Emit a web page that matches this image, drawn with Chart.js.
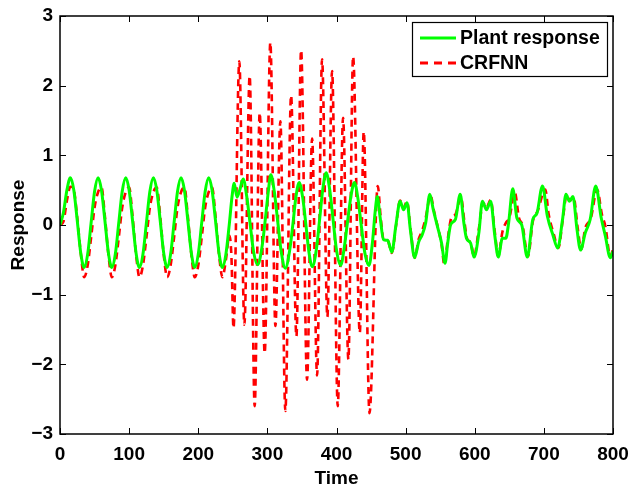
<!DOCTYPE html>
<html>
<head>
<meta charset="utf-8">
<title>Plant response vs CRFNN</title>
<script src="https://cdn.jsdelivr.net/npm/chart.js@4.4.1/dist/chart.umd.min.js"></script>
<style>
  html, body { margin: 0; padding: 0; background: #fff; }
</style>
</head>
<body>
<canvas id="chart" width="630" height="490"></canvas>
<script>
const xTicks = [0, 100, 200, 300, 400, 500, 600, 700, 800];
const yTicks = [-3, -2, -1, 0, 1, 2, 3];
const seriesNames = ["Plant response", "CRFNN"];

// Plant response
const plantTime = [
  0, 5, 10, 15, 20, 25, 30, 35, 40, 45, 50, 55, 60, 65, 70, 75, 80, 85, 90, 95,
  100, 105, 110, 115, 120, 125, 130, 135, 140, 145, 150, 155, 160, 165, 170, 175, 180, 185, 190, 195,
  200, 205, 210, 215, 220, 225, 230, 235, 240, 245,
  249, 252, 256, 260, 265, 270, 275, 280, 286, 292, 297, 301, 305, 310, 315, 320, 326, 332, 337, 341,
  346, 351, 356, 360, 365, 371, 376, 380, 385, 390, 395, 400, 406, 411, 416, 421, 426, 431, 436, 441,
  447, 452, 456, 459, 463, 468, 474, 480, 486, 492, 497, 502, 507, 513, 519, 524, 529, 535, 540, 546,
  552, 557, 561, 565, 572, 579, 584, 588, 594, 599, 606, 611, 617, 623, 629, 634, 640, 645, 649, 655,
  661, 668, 676, 684, 690, 698, 705, 713, 720, 727, 732, 737, 742, 748, 753, 760, 767, 775, 783, 789,
  796, 800
];
const plantValue = [
  0.00, 0.18, 0.50, 0.68, 0.50, 0.06, -0.40, -0.61, -0.42, 0.03, 0.48, 0.68, 0.50, 0.06, -0.40, -0.61, -0.42, 0.03, 0.48, 0.68,
  0.50, 0.06, -0.40, -0.61, -0.42, 0.03, 0.48, 0.68, 0.50, 0.06, -0.40, -0.61, -0.42, 0.03, 0.48, 0.68, 0.50, 0.06, -0.40, -0.61,
  -0.42, 0.03, 0.48, 0.68, 0.50, 0.06, -0.40, -0.61, -0.42, 0.02,
  0.42, 0.60, 0.40, 0.50, 0.66, 0.42, 0.02, -0.38, -0.57, -0.33, 0.08, 0.45, 0.72, 0.48, 0.05, -0.38, -0.62, -0.38, 0.02, 0.38,
  0.61, 0.40, -0.02, -0.38, -0.60, -0.34, 0.12, 0.50, 0.75, 0.52, 0.08, -0.36, -0.58, -0.34, 0.05, 0.42, 0.61, 0.38, -0.02, -0.40,
  -0.58, -0.25, 0.20, 0.41, 0.12, -0.21, -0.22, -0.39, 0.00, 0.34, 0.22, 0.32, -0.08, -0.47, -0.24, -0.14, 0.03, 0.44, 0.22, -0.02,
  -0.26, -0.55, -0.25, 0.00, 0.08, 0.44, 0.05, -0.19, -0.26, -0.46, -0.11, 0.34, 0.22, 0.34, -0.15, -0.46, -0.19, -0.19, 0.03, 0.52,
  0.10, 0.00, -0.46, 0.08, 0.17, 0.56, 0.13, -0.14, -0.33, 0.08, 0.44, 0.34, 0.41, -0.07, -0.36, -0.11, 0.08, 0.56, 0.10, -0.16,
  -0.47, -0.38
];

// CRFNN output
const crfnnTime = [
  0, 5, 10, 15, 20, 25, 30, 35, 40, 45, 50, 55, 60, 65, 70, 75, 80, 85, 90, 95,
  100, 105, 110, 115, 120, 125, 130, 135, 140, 145, 150, 155, 160, 165, 170, 175, 180, 185, 190, 195,
  200, 205, 210, 215, 220, 225, 230, 235, 240, 245, 248,
  251, 259.4, 266.7, 274.4, 281.6, 288.9, 296.1, 304.3, 311.6, 318.8, 326, 334.3, 342, 348.8, 357.4, 364.7,
  371.9, 379.1, 386.8, 393.6, 401.8, 409.5, 417.2, 424, 433.7, 439.4, 447.7, 459.7,
  464, 468, 474, 480, 486, 492, 497, 502, 507, 513, 519, 524, 529, 536, 541, 547, 552, 556, 561, 566,
  572, 580, 585, 589, 594, 599, 606, 612, 617, 623, 629, 634, 640, 645, 650, 658, 664, 669, 677, 684,
  691, 702, 707, 714, 721, 727, 733, 738, 743, 749, 754, 760, 768, 777, 784, 789, 796, 800
];
const crfnnValue = [
  0.00, 0.05, 0.35, 0.55, 0.50, 0.10, -0.40, -0.75, -0.58, -0.18, 0.25, 0.47, 0.54, 0.12, -0.42, -0.75, -0.58, -0.18, 0.25, 0.47,
  0.54, 0.12, -0.42, -0.75, -0.58, -0.18, 0.25, 0.47, 0.54, 0.12, -0.42, -0.75, -0.58, -0.18, 0.25, 0.47, 0.54, 0.12, -0.42, -0.75,
  -0.58, -0.18, 0.25, 0.47, 0.54, 0.12, -0.42, -0.75, -0.50, -0.15, -0.45,
  -1.48, 2.35, -1.43, 2.14, -2.60, 1.61, -1.84, 2.62, -1.45, 1.49, -2.67, 1.86, -1.60, 2.51, -2.22, 1.24,
  -2.16, 2.38, -1.32, 2.21, -2.60, 1.54, -1.93, 2.42, -1.55, 1.34, -2.70, 0.56,
  0.10, -0.20, -0.22, -0.40, -0.02, 0.35, 0.25, 0.34, -0.05, -0.47, -0.20, -0.08, 0.10, 0.42, 0.20, -0.05, -0.28, -0.57, -0.20, 0.10,
  0.15, 0.40, 0.05, -0.20, -0.25, -0.45, -0.05, 0.32, 0.25, 0.36, -0.10, -0.45, -0.10, 0.03, 0.10, 0.46, 0.10, 0.00, -0.45, 0.05,
  0.20, 0.51, 0.15, -0.12, -0.33, 0.05, 0.43, 0.35, 0.40, -0.05, -0.35, -0.04, 0.10, 0.51, 0.15, -0.02, -0.45, -0.35
];

const green = "#00ff00";
const red = "#ff0000";
const fontFamily = "'Liberation Sans', Arial, Helvetica, sans-serif";

function toPoints(ts, vs) {
  return ts.map((t, i) => ({ x: t, y: vs[i] }));
}

function minusSign(v) {
  return v < 0 ? "\u2212" + Math.abs(v) : String(v);
}

// Matlab style box, inward ticks and legend
const matlabAxes = {
  id: "matlabAxes",
  afterDraw(chart) {
    const { ctx, chartArea: a, scales } = chart;
    const tick = 6;
    ctx.save();
    ctx.strokeStyle = "#000";
    ctx.lineWidth = 1;
    ctx.beginPath();
    xTicks.forEach(t => {
      const px = Math.round(scales.x.getPixelForValue(t)) + 0.5;
      ctx.moveTo(px, a.bottom); ctx.lineTo(px, a.bottom - tick);
      ctx.moveTo(px, a.top); ctx.lineTo(px, a.top + tick);
    });
    yTicks.forEach(v => {
      const py = Math.round(scales.y.getPixelForValue(v)) + 0.5;
      ctx.moveTo(a.left, py); ctx.lineTo(a.left + tick, py);
      ctx.moveTo(a.right, py); ctx.lineTo(a.right - tick, py);
    });
    ctx.stroke();
    ctx.lineWidth = 1.5;
    ctx.strokeRect(a.left, a.top, a.right - a.left, a.bottom - a.top);

    // legend
    const lx = 412.5, ly = 22.5, lw = 195, lh = 54;
    ctx.fillStyle = "#fff";
    ctx.fillRect(lx, ly, lw, lh);
    ctx.lineWidth = 1.2;
    ctx.strokeRect(lx, ly, lw, lh);
    const rows = [
      { name: seriesNames[0], color: green, dash: [], y: 38 },
      { name: seriesNames[1], color: red, dash: [8, 6], y: 63 }
    ];
    rows.forEach(r => {
      ctx.beginPath();
      ctx.setLineDash(r.dash);
      ctx.strokeStyle = r.color;
      ctx.lineWidth = 3;
      ctx.moveTo(420, r.y); ctx.lineTo(456, r.y);
      ctx.stroke();
      ctx.setLineDash([]);
      ctx.fillStyle = "#000";
      ctx.font = "bold 19.5px " + fontFamily;
      ctx.textAlign = "left";
      ctx.textBaseline = "middle";
      ctx.fillText(r.name, 460, r.y + 1);
    });
    ctx.restore();
  }
};

const tickFont = { family: fontFamily, size: 19, weight: "bold" };

new Chart(document.getElementById("chart").getContext("2d"), {
  type: "line",
  data: {
    datasets: [
      {
        label: seriesNames[0],
        data: toPoints(plantTime, plantValue),
        borderColor: green,
        borderWidth: 3,
        pointRadius: 0,
        cubicInterpolationMode: "monotone",
        fill: false
      },
      {
        label: seriesNames[1],
        data: toPoints(crfnnTime, crfnnValue),
        borderColor: red,
        borderWidth: 2.6,
        borderDash: [7, 5],
        pointRadius: 0,
        cubicInterpolationMode: "monotone",
        fill: false
      }
    ]
  },
  options: {
    responsive: false,
    animation: false,
    devicePixelRatio: 1,
    layout: { padding: { left: 0, right: 17, top: 16, bottom: 0 } },
    plugins: {
      legend: { display: false },
      tooltip: { enabled: false }
    },
    scales: {
      x: {
        type: "linear",
        min: 0,
        max: 800,
        grid: { display: false, drawTicks: false },
        border: { display: false },
        afterFit(scale) {
          scale.height = 56;
          scale.paddingLeft = 0;
          scale.paddingRight = 0;
        },
        afterBuildTicks(scale) { scale.ticks = xTicks.map(v => ({ value: v })); },
        ticks: { font: tickFont, color: "#000", padding: 9, maxRotation: 0, callback: v => String(v) },
        title: { display: true, text: "Time", font: tickFont, color: "#000", padding: { top: 0, bottom: 0 } }
      },
      y: {
        type: "linear",
        min: -3,
        max: 3,
        grid: { display: false, drawTicks: false },
        border: { display: false },
        afterFit(scale) {
          scale.width = 60;
          scale.paddingTop = 0;
          scale.paddingBottom = 0;
        },
        afterBuildTicks(scale) { scale.ticks = yTicks.map(v => ({ value: v })); },
        ticks: { font: tickFont, color: "#000", padding: 7, callback: v => minusSign(v) },
        title: { display: true, text: "Response", font: tickFont, color: "#000", padding: { top: 7, bottom: 0 } }
      }
    }
  },
  plugins: [matlabAxes]
});
</script>
</body>
</html>
